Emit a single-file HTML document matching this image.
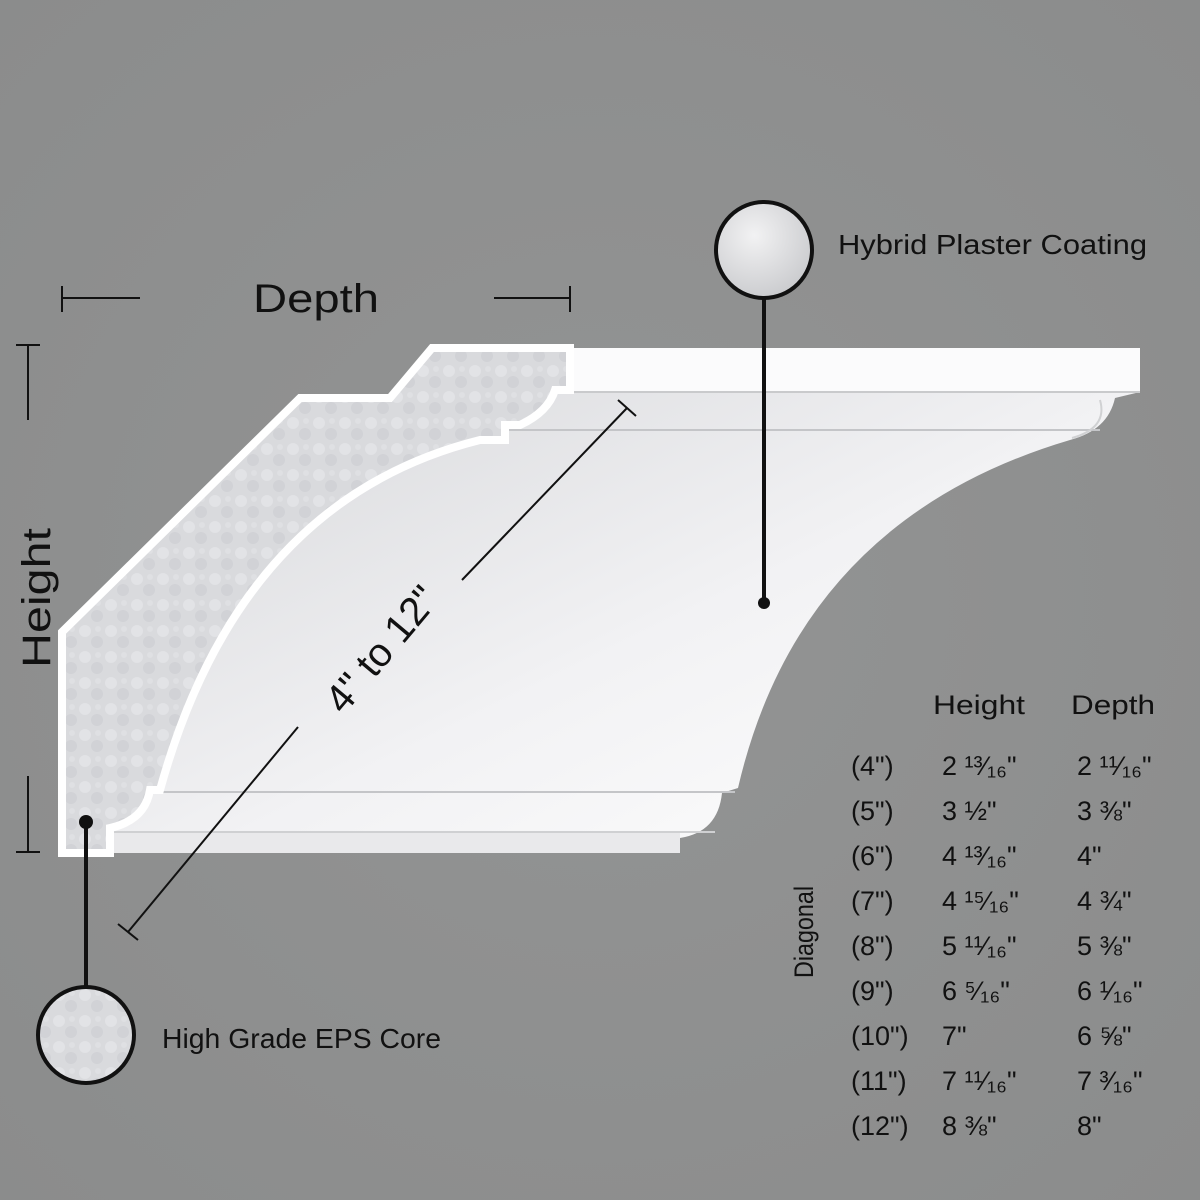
<!DOCTYPE html>
<html><head><meta charset="utf-8"><style>
html,body{margin:0;padding:0;width:1200px;height:1200px;overflow:hidden;background:#8e8f8f}
svg{display:block}
text{font-family:"Liberation Sans","DejaVu Sans",sans-serif;fill:#111}
</style></head><body>
<svg width="1200" height="1200" viewBox="0 0 1200 1200" xmlns="http://www.w3.org/2000/svg">
<defs>
<radialGradient id="bg" cx="50%" cy="50%" r="80%"><stop offset="0" stop-color="#939494"/><stop offset="1" stop-color="#8a8b8b"/></radialGradient>
<linearGradient id="face" x1="0" y1="0" x2="1" y2="1"><stop offset="0" stop-color="#d4d5d8"/><stop offset="0.55" stop-color="#f2f2f4"/><stop offset="1" stop-color="#ffffff"/></linearGradient>
<radialGradient id="ball" cx="40%" cy="35%" r="70%"><stop offset="0" stop-color="#f2f2f3"/><stop offset="1" stop-color="#c9cacd"/></radialGradient>
<pattern id="tex" width="26" height="26" patternUnits="userSpaceOnUse"><rect width="26" height="26" fill="#d9dadd"/><circle cx="7" cy="7" r="6" fill="#e2e3e6"/><circle cx="19" cy="18" r="6" fill="#d1d2d6"/><circle cx="20" cy="5" r="3" fill="#dfe0e3"/></pattern>
</defs>
<rect width="1200" height="1200" fill="url(#bg)"/>

<path d="M570,348 L1140,348 L1140,392 L1115,398 Q1108,430 1070,440 Q800,520 738,788 L722,793 Q718,832 680,838 L680,853 L110,853 L110,790 L160,790 Q240,500 480,440 L505,440 L505,425 Q540,410 555,390 L570,390 Z" fill="url(#face)"/>
<rect x="570" y="348" width="570" height="44" fill="#fbfbfc"/>
<line x1="570" y1="392" x2="1140" y2="392" stroke="#c9cacc" stroke-width="2"/>
<line x1="505" y1="430" x2="1100" y2="430" stroke="#c4c5c8" stroke-width="2"/>
<path d="M1100,400 Q1108,428 1072,438" fill="none" stroke="#d0d1d3" stroke-width="2"/>
<line x1="150" y1="792" x2="735" y2="792" stroke="#c4c5c8" stroke-width="2"/>
<rect x="112" y="832" width="568" height="21" fill="#e9e9eb"/>
<line x1="112" y1="832" x2="715" y2="832" stroke="#cfd0d2" stroke-width="2"/>

<path d="M62,632 L300,398 L390,398 L432,348 L570,348 L570,390 L555,390 Q548,412 520,425 L505,425 L505,440 L480,440 Q240,500 160,790 L150,790 Q145,820 110,828 L110,853 L62,853 Z" fill="url(#tex)" stroke="#fff" stroke-width="8" stroke-linejoin="miter"/>

<g stroke="#111" stroke-width="2">
<line x1="62" y1="298" x2="140" y2="298"/><line x1="62" y1="286" x2="62" y2="312"/>
<line x1="494" y1="298" x2="570" y2="298"/><line x1="570" y1="286" x2="570" y2="312"/>
<line x1="28" y1="345" x2="28" y2="420"/><line x1="16" y1="345" x2="40" y2="345"/>
<line x1="28" y1="776" x2="28" y2="852"/><line x1="16" y1="852" x2="40" y2="852"/>
<line x1="627" y1="408" x2="462" y2="580"/><line x1="618" y1="400" x2="636" y2="416"/>
<line x1="298" y1="727" x2="128" y2="932"/><line x1="118" y1="924" x2="138" y2="940"/>
</g>
<text x="316" y="312" font-size="40" text-anchor="middle" textLength="126" lengthAdjust="spacingAndGlyphs">Depth</text>
<text transform="translate(50,598) rotate(-90)" font-size="40" text-anchor="middle" textLength="140" lengthAdjust="spacingAndGlyphs">Height</text>
<text transform="translate(392,658) rotate(-50)" font-size="40" text-anchor="middle">4" to 12"</text>

<line x1="764" y1="298" x2="764" y2="603" stroke="#111" stroke-width="4"/>
<circle cx="764" cy="603" r="6" fill="#111"/>
<circle cx="764" cy="250" r="48" fill="url(#ball)" stroke="#111" stroke-width="4"/>
<text x="838" y="254" font-size="28" textLength="309" lengthAdjust="spacingAndGlyphs">Hybrid Plaster Coating</text>

<line x1="86" y1="822" x2="86" y2="987" stroke="#111" stroke-width="4"/>
<circle cx="86" cy="822" r="7" fill="#111"/>
<circle cx="86" cy="1035" r="48" fill="url(#tex)" stroke="#111" stroke-width="4"/>
<text x="162" y="1048" font-size="28" textLength="279" lengthAdjust="spacingAndGlyphs">High Grade EPS Core</text>

<g font-size="27">
<text x="933" y="714" textLength="92" lengthAdjust="spacingAndGlyphs">Height</text><text x="1071" y="714" textLength="84" lengthAdjust="spacingAndGlyphs">Depth</text>
<text transform="translate(813,932) rotate(-90)" text-anchor="middle" textLength="92" lengthAdjust="spacingAndGlyphs">Diagonal</text>
<text x="851" y="775">(4")</text><text x="942" y="775">2 ¹³⁄₁₆"</text><text x="1077" y="775">2 ¹¹⁄₁₆"</text>
<text x="851" y="820">(5")</text><text x="942" y="820">3 ½"</text><text x="1077" y="820">3 ⅜"</text>
<text x="851" y="865">(6")</text><text x="942" y="865">4 ¹³⁄₁₆"</text><text x="1077" y="865">4"</text>
<text x="851" y="910">(7")</text><text x="942" y="910">4 ¹⁵⁄₁₆"</text><text x="1077" y="910">4 ¾"</text>
<text x="851" y="955">(8")</text><text x="942" y="955">5 ¹¹⁄₁₆"</text><text x="1077" y="955">5 ⅜"</text>
<text x="851" y="1000">(9")</text><text x="942" y="1000">6 ⁵⁄₁₆"</text><text x="1077" y="1000">6 ¹⁄₁₆"</text>
<text x="851" y="1045">(10")</text><text x="942" y="1045">7"</text><text x="1077" y="1045">6 ⅝"</text>
<text x="851" y="1090">(11")</text><text x="942" y="1090">7 ¹¹⁄₁₆"</text><text x="1077" y="1090">7 ³⁄₁₆"</text>
<text x="851" y="1135">(12")</text><text x="942" y="1135">8 ⅜"</text><text x="1077" y="1135">8"</text>
</g>
</svg>
</body></html>
